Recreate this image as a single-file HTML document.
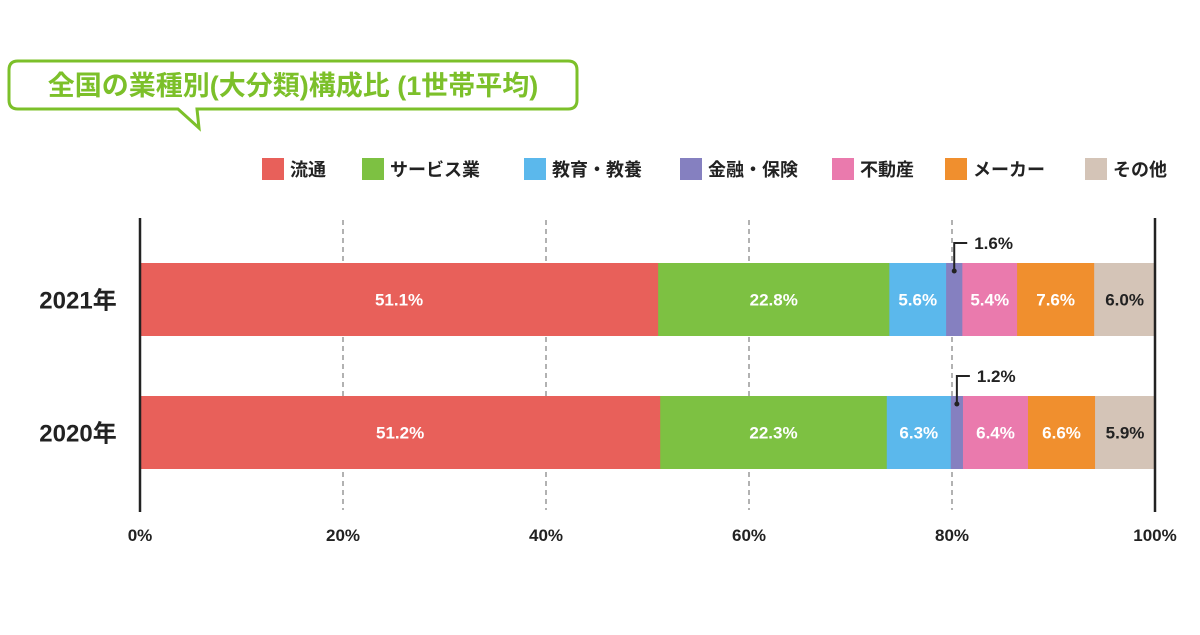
<!DOCTYPE html>
<html><head><meta charset="utf-8">
<style>
body{margin:0;width:1200px;height:630px;background:#fff;overflow:hidden;font-family:"Liberation Sans","Noto Sans CJK JP",sans-serif;}
</style></head><body>
<svg width="1200" height="630" xmlns="http://www.w3.org/2000/svg" font-family="Liberation Sans, Noto Sans CJK JP, sans-serif">
<g>
<path d="M18,61 H568 Q577,61 577,70 V100 Q577,109 568,109 H197 L199,128 L178,109 H18 Q9,109 9,100 V70 Q9,61 18,61 Z" fill="#fff" stroke="#7cc02a" stroke-width="3"/>
<text x="293" y="95" text-anchor="middle" font-size="27" font-weight="bold" fill="#7cc02a">全国の業種別(大分類)構成比 (1世帯平均)</text>
</g>
<g id="legend"></g>
<g id="grid"></g>
<g id="bars"></g>
<g id="axis"></g>
</svg>
<script>
const categories=["流通","サービス業","教育・教養","金融・保険","不動産","メーカー","その他"];
const colors=["#e8605a","#7dc142","#5bb8ec","#8580c0","#ea7aad","#f08f2e","#d4c4b7"];
const years=["2021年","2020年"];
const values2021=[51.1,22.8,5.6,1.6,5.4,7.6,6.0];
const values2020=[51.2,22.3,6.3,1.2,6.4,6.6,5.9];
const ticks=[0,20,40,60,80,100];
const legendX=[262,362,524,680,832,945,1085];
const NS="http://www.w3.org/2000/svg";
const X0=140,X1=1155;
const x=v=>X0+(X1-X0)*v/100;
function el(tag,attrs,parent){const e=document.createElementNS(NS,tag);for(const k in attrs)e.setAttribute(k,attrs[k]);parent.appendChild(e);return e;}
const lg=document.getElementById('legend');
categories.forEach((c,i)=>{
  const r=el('rect',{x:legendX[i],y:158,width:22,height:22,fill:colors[i]},lg);
  
  
  const t=el('text',{x:legendX[i]+28,y:176,'font-size':18,'font-weight':'bold',fill:'#222'},lg);
  
  
  t.textContent=c;
});
const grid=document.getElementById('grid');
ticks.forEach(t=>{
  if(t>0&&t<100){const l=el('line',{x1:x(t),x2:x(t),y1:220,y2:510,stroke:'#666','stroke-width':1,'stroke-dasharray':'5,4'},grid);
  
  }
  const tx=el('text',{x:x(t),y:541,'text-anchor':'middle','font-size':17,'font-weight':'bold',fill:'#222'},grid);
  
  
  tx.textContent=t+'%';
});
const bars=document.getElementById('bars');
const series=[values2021,values2020];
const tops=[263,396],H=73;
series.forEach((vals,r)=>{
  const tot=vals.reduce((a,b)=>a+b,0);
  let cum=0;
  const yl=el('text',{x:78,y:tops[r]+H/2+9,'text-anchor':'middle','font-size':24,'font-weight':'bold',fill:'#222'},bars);
  
  
  yl.textContent=years[r];
  vals.forEach((v,i)=>{
    const a=x(cum/tot*100),b=x((cum+v)/tot*100);cum+=v;
    const rc=el('rect',{x:a,y:tops[r],width:b-a+0.5,height:H,fill:colors[i]},bars);
    
    
    if(i===3){
      const m=(a+b)/2;
      const p=el('path',{d:`M${m},${tops[r]+8} V${tops[r]-20} H${m+13}`,fill:'none',stroke:'#222','stroke-width':2},bars);
      
      
      const d=el('circle',{cx:m,cy:tops[r]+8,r:2.5,fill:'#222'},bars);
      
      
      const t=el('text',{x:m+20,y:tops[r]-14,'font-size':17,'font-weight':'bold',fill:'#222'},bars);
      
      
      t.textContent=v.toFixed(1)+'%';
    } else {
      const t=el('text',{x:(a+b)/2,y:tops[r]+H/2+6,'text-anchor':'middle','font-size':17,'font-weight':'bold',fill:i===6?'#222':'#fff'},bars);
      
      
      t.textContent=v.toFixed(1)+'%';
    }
  });
});
const ax=document.getElementById('axis');
[X0,X1].forEach(v=>{
  const l=el('line',{x1:v,x2:v,y1:218,y2:512,stroke:'#222','stroke-width':2.5},ax);
  
  
});
</script>
</body></html>
